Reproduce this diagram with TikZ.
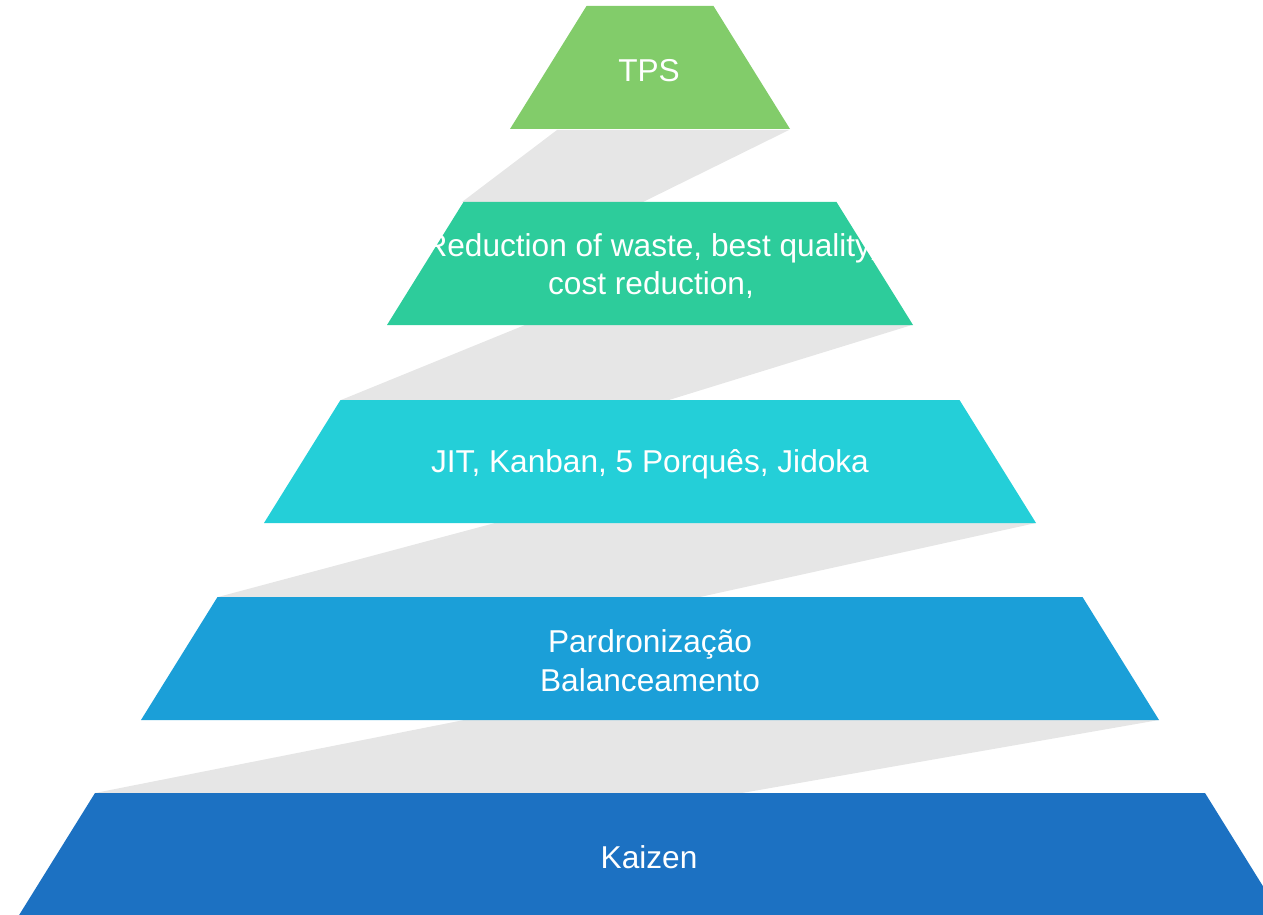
\documentclass[tikz,border=0pt]{standalone}
\usepackage{fontspec}
\setmainfont{Liberation Sans}
\definecolor{tpsgreen}{RGB}{130,204,106}
\definecolor{goalgreen}{RGB}{45,204,155}
\definecolor{toolcyan}{RGB}{36,207,216}
\definecolor{stdblue}{RGB}{27,159,216}
\definecolor{kaizenblue}{RGB}{28,113,194}
\definecolor{linkgray}{RGB}{230,230,230}
\begin{document}
\begin{tikzpicture}[x=0.02cm,y=-0.02cm,
  lvltext/.style={text=white,align=center,font=\fontsize{18}{22}\selectfont}]
\pgfmathsetmacro{\cx}{650};
\pgfmathsetmacro{\h}{123};
\pgfmathsetmacro{\sl}{76.5};
\clip (0,0) rectangle (1263,915);
% gray links between the levels
\fill[linkgray] (557,130)--(789,130)--(643,202)--(462,202)--cycle;
\fill[linkgray] (525,325)--(912,325)--(669,400)--(341,400)--cycle;
\fill[linkgray] (495,523)--(1036,523)--(700,597)--(218,597)--cycle;
\fill[linkgray] (464,720)--(1159,720)--(742,793)--(95,793)--cycle;
% levels
\foreach \yt/\hw/\col in {6/63.5/tpsgreen, 202/186.5/goalgreen, 400/309.5/toolcyan,
  597/432.5/stdblue, 793/555/kaizenblue}
  \fill[\col] ({\cx-\hw},\yt)--({\cx+\hw},\yt)--({\cx+\hw+\sl},{\yt+\h})--({\cx-\hw-\sl},{\yt+\h})--cycle;
\node[lvltext] (tps) at (649,71) {TPS};
\node[lvltext] (goals) at (651,266) {Reduction of waste, best quality,\\cost reduction,};
\node[lvltext] (tools) at (650,464) {JIT, Kanban, 5 Porquês, Jidoka};
\node[lvltext] (std) at (650,661) {Pardronização\\Balanceamento};
\node[lvltext] (kaizen) at (649,857) {Kaizen};
\end{tikzpicture}
\end{document}
